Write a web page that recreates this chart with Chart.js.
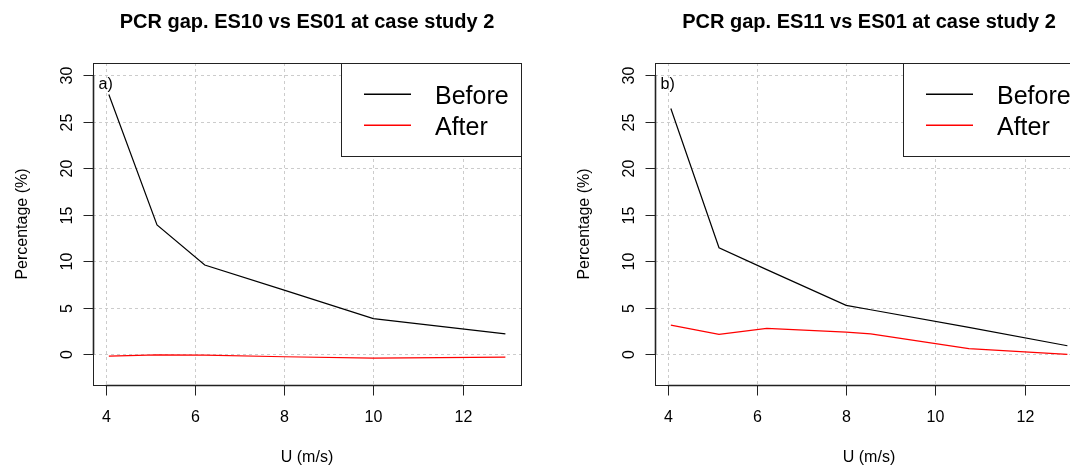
<!DOCTYPE html>
<html>
<head>
<meta charset="utf-8">
<script src="https://cdn.jsdelivr.net/npm/chart.js@4.4.1/dist/chart.umd.min.js"></script>
<style>
  html, body { margin: 0; padding: 0; background: #fff; }
  body { width: 1070px; height: 468px; overflow: hidden; position: relative; }
  .panel { position: absolute; top: 0; width: 562px; height: 468px; }
</style>
</head>
<body>
<div class="panel" style="left:0"><canvas id="chartA" width="562" height="468"></canvas></div>
<div class="panel" style="left:562px"><canvas id="chartB" width="562" height="468"></canvas></div>
<script>
// data (wind speed U, gap in %)
const windA   = [4.07, 5.15, 6.22, 8.0, 10.0, 12.96];
const beforeA = [27.9, 13.9, 9.6, 6.9, 3.85, 2.2];
const afterA  = [-0.18, -0.05, -0.07, -0.25, -0.4, -0.29];

const windB   = [4.07, 5.15, 6.22, 8.0, 8.55, 10.75, 12.96];
const beforeB = [26.4, 11.45, 9.1, 5.27, 4.8, 2.9, 0.93];
const afterB  = [3.15, 2.15, 2.8, 2.4, 2.2, 0.62, 0.0];

const xTicks = [4, 6, 8, 10, 12];
const yTicks = [0, 5, 10, 15, 20, 25, 30];
const seriesNames  = ['Before', 'After'];
const seriesColors = ['#000000', '#ff0000'];
const titles = ['PCR gap. ES10 vs ES01 at case study 2', 'PCR gap. ES11 vs ES01 at case study 2'];
const panelTags = ['a)', 'b)'];
const xTitle = 'U (m/s)';
const yTitle = 'Percentage (%)';

const FONT = '"Liberation Sans", Arial, Helvetica, sans-serif';

// R style frame: dotted grid, box, axes, labels and legend
const rStyle = {
  id: 'rStyle',
  beforeDatasetsDraw(chart) {
    const { ctx, chartArea: a, scales: { x, y } } = chart;
    ctx.save();
    ctx.strokeStyle = '#cccccc';
    ctx.lineWidth = 1;
    ctx.setLineDash([3, 3]);
    xTicks.forEach(v => {
      const px = Math.round(x.getPixelForValue(v)) + 0.5;
      ctx.beginPath(); ctx.moveTo(px, a.top); ctx.lineTo(px, a.bottom); ctx.stroke();
    });
    yTicks.forEach(v => {
      const py = Math.round(y.getPixelForValue(v)) + 0.5;
      ctx.beginPath(); ctx.moveTo(a.left, py); ctx.lineTo(a.right, py); ctx.stroke();
    });
    ctx.restore();
  },
  afterDatasetsDraw(chart, args, opts) {
    const { ctx, chartArea: a, scales: { x, y } } = chart;
    ctx.save();
    ctx.setLineDash([]);

    // box
    ctx.strokeStyle = '#222';
    ctx.lineWidth = 1;
    ctx.strokeRect(Math.round(a.left) + 0.5, Math.round(a.top) + 0.5, Math.round(a.right - a.left), Math.round(a.bottom - a.top));

    // x axis
    const bx = Math.round(a.bottom) + 0.5;
    ctx.lineWidth = 1.6;
    ctx.beginPath();
    ctx.moveTo(x.getPixelForValue(xTicks[0]), bx);
    ctx.lineTo(x.getPixelForValue(xTicks[xTicks.length - 1]), bx);
    ctx.stroke();
    ctx.lineWidth = 1;
    ctx.fillStyle = '#000';
    ctx.font = '16px ' + FONT;
    ctx.textAlign = 'center';
    ctx.textBaseline = 'middle';
    xTicks.forEach(v => {
      const px = Math.round(x.getPixelForValue(v)) + 0.5;
      ctx.beginPath(); ctx.moveTo(px, bx); ctx.lineTo(px, bx + 10); ctx.stroke();
      ctx.fillText(String(v), px, a.bottom + 33);
    });
    ctx.fillText(xTitle, (a.left + a.right) / 2, a.bottom + 73);

    // y axis
    const lx = Math.round(a.left) + 0.5;
    ctx.lineWidth = 1.6;
    ctx.beginPath();
    ctx.moveTo(lx, y.getPixelForValue(yTicks[0]));
    ctx.lineTo(lx, y.getPixelForValue(yTicks[yTicks.length - 1]));
    ctx.stroke();
    ctx.lineWidth = 1;
    yTicks.forEach(v => {
      const py = Math.round(y.getPixelForValue(v)) + 0.5;
      ctx.beginPath(); ctx.moveTo(lx - 10, py); ctx.lineTo(lx, py); ctx.stroke();
      ctx.save();
      ctx.translate(a.left - 25, py);
      ctx.rotate(-Math.PI / 2);
      ctx.fillText(String(v), 0, 0);
      ctx.restore();
    });
    ctx.save();
    ctx.translate(a.left - 70, (a.top + a.bottom) / 2);
    ctx.rotate(-Math.PI / 2);
    ctx.fillText(yTitle, 0, 0);
    ctx.restore();

    // panel tag
    ctx.fillText(opts.tag, x.getPixelForValue(4), y.getPixelForValue(29));

    // title
    ctx.font = 'bold 20px ' + FONT;
    ctx.fillText(opts.title, (a.left + a.right) / 2, 22);

    // legend, top right
    const w = 180, h = 93;
    const lxl = Math.round(a.right - w) + 0.5, lyt = Math.round(a.top) + 0.5;
    ctx.fillStyle = '#fff';
    ctx.fillRect(lxl, lyt, w, h);
    ctx.strokeStyle = '#222';
    ctx.strokeRect(lxl, lyt, w, h);
    ctx.font = '25px ' + FONT;
    ctx.textAlign = 'left';
    ctx.textBaseline = 'alphabetic';
    seriesNames.forEach((name, i) => {
      const ly = Math.round(a.top + 31 + i * 31) + 0.2;
      ctx.strokeStyle = seriesColors[i];
      ctx.lineWidth = 1.5;
      ctx.beginPath(); ctx.moveTo(a.right - 157, ly); ctx.lineTo(a.right - 110, ly); ctx.stroke();
      ctx.fillStyle = '#000';
      ctx.fillText(name, a.right - 86, ly + 9.5);
    });
    ctx.restore();
  }
};

function makePanel(id, wind, before, after, title, tag) {
  const series = [before, after];
  new Chart(document.getElementById(id), {
    type: 'line',
    data: {
      datasets: series.map((vals, s) => ({
        label: seriesNames[s],
        data: wind.map((w, i) => ({ x: w, y: vals[i] })),
        borderColor: seriesColors[s],
        borderWidth: 1.2,
        pointRadius: 0,
        tension: 0,
        fill: false
      }))
    },
    options: {
      responsive: false,
      animation: false,
      events: [],
      layout: { padding: { left: 93, top: 63, right: 41, bottom: 83 } },
      scales: {
        x: { type: 'linear', min: 3.715, max: 13.31, display: false },
        y: { type: 'linear', min: -3.28, max: 31.28, display: false }
      },
      plugins: {
        legend: { display: false },
        tooltip: { enabled: false },
        rStyle: { title: title, tag: tag }
      }
    },
    plugins: [rStyle]
  });
}

makePanel('chartA', windA, beforeA, afterA, titles[0], panelTags[0]);
makePanel('chartB', windB, beforeB, afterB, titles[1], panelTags[1]);
</script>
</body>
</html>
